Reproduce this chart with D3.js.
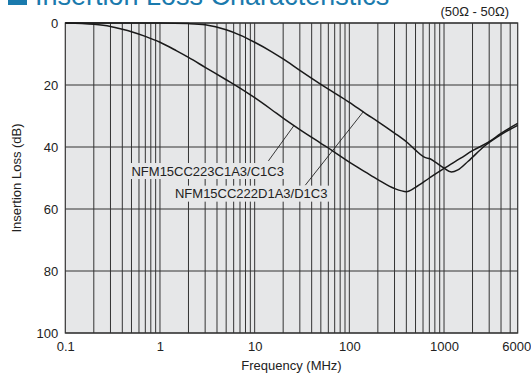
<!DOCTYPE html>
<html><head><meta charset="utf-8">
<script src="https://cdn.jsdelivr.net/npm/d3@7"></script>
<style>
html,body{margin:0;padding:0;background:#fff;}
svg{display:block;font-family:"Liberation Sans",Arial,sans-serif;}
</style></head>
<body>
<svg id="c" width="531" height="373"></svg>
<script>
// ---- data ----
const titleText = "Insertion Loss Characteristics";
const impedanceNote = "(50\u03A9 - 50\u03A9)";
const xTickValues = [0.1, 1, 10, 100, 1000, 6000];
const xTickLabels = ["0.1", "1", "10", "100", "1000", "6000"];
const yTickValues = [0, 20, 40, 60, 80, 100];
const xTitle = "Frequency (MHz)";
const yTitle = "Insertion Loss (dB)";

const seriesNames = ["NFM15CC223C1A3/C1C3", "NFM15CC222D1A3/D1C3"];
const freqA = [0.1, 0.15, 0.2, 0.3, 0.4, 0.5, 0.7, 1, 1.5, 2, 3, 5, 7, 10, 15, 20, 30, 50, 70, 100, 150, 200, 300, 400, 500, 700, 1000, 1500, 2000, 3000, 4000, 6000];
const lossA = [0, 0.15, 0.4, 1.1, 2.0, 2.8, 4.3, 6.2, 9.0, 11.1, 14.3, 18.3, 21.0, 24.1, 27.9, 30.7, 34.4, 38.8, 41.7, 44.9, 48.2, 50.5, 53.4, 54.4, 53.0, 50.0, 46.9, 43.6, 41.2, 38.3, 35.6, 32.4];
const freqB = [0.1, 1, 2, 3, 5, 7, 10, 15, 20, 30, 50, 70, 100, 150, 200, 300, 400, 500, 600, 650, 700, 800, 1000, 1200, 1400, 1800, 2700, 4000, 6000];
const lossB = [0, 0, 0.2, 0.6, 2.2, 3.9, 6.2, 9.2, 11.6, 15.3, 19.8, 22.6, 25.6, 29.3, 31.8, 35.5, 38.3, 41.0, 43.0, 43.5, 43.7, 44.8, 46.8, 48.1, 47.4, 44.6, 39.6, 36.0, 33.0];

// label anchors (freq MHz, dB) and leader lines (start point, target freq on curve)
const labelFreq = [0.5, 1.44];
const labelLoss = [49.2, 56.5];
const leaderStartFreq = [13.95, 34.3];
const leaderStartLoss = [44.5, 52.3];
const leaderEndFreq = [26, 140];

// ---- drawing ----
const svg = d3.select("#c");
const x = d3.scaleLog().domain([0.1, 6000]).range([65.3, 517.7]);
const y = d3.scaleLinear().domain([0, 100]).range([23, 333]);
const plotBg = "#e6e7e8";
const gridCol = "#333";
const teal = "#1a7aad";

// title
svg.append("rect").attr("x", 8).attr("y", -16).attr("width", 19).attr("height", 21).attr("fill", teal);
svg.append("text").attr("x", 35).attr("y", 5).attr("font-size", 27).attr("fill", teal).text(titleText);
svg.append("text").attr("x", 509).attr("y", 16).attr("font-size", 13).attr("text-anchor", "end").attr("fill", "#222").text(impedanceNote);

// plot background
svg.append("rect").attr("x", x(0.1)).attr("y", y(0)).attr("width", x(6000) - x(0.1)).attr("height", y(100) - y(0)).attr("fill", plotBg);

// grid
const g = svg.append("g");
const vLines = [];
for (let d = 0.1; d < 6000; d *= 10) {
  for (let m = 1; m <= 9; m++) {
    const v = +(d * m).toPrecision(3);
    if (v > 0.1 && v < 6000) vLines.push(v);
  }
}
g.selectAll("line.v").data(vLines).join("line").attr("class", "v")
  .attr("x1", d => x(d)).attr("x2", d => x(d)).attr("y1", y(0)).attr("y2", y(100))
  .attr("stroke", gridCol).attr("stroke-width", 1);
g.selectAll("line.h").data(yTickValues).join("line").attr("class", "h")
  .attr("x1", x(0.1)).attr("x2", x(6000)).attr("y1", d => y(d)).attr("y2", d => y(d))
  .attr("stroke", gridCol).attr("stroke-width", 1);
svg.append("rect").attr("x", x(0.1)).attr("y", y(0)).attr("width", x(6000) - x(0.1)).attr("height", y(100) - y(0))
  .attr("fill", "none").attr("stroke", gridCol).attr("stroke-width", 1.2);

// axes
const yAxis = d3.axisLeft(y).tickValues(yTickValues).tickSize(0).tickPadding(7);
const ya = svg.append("g").attr("transform", `translate(${x(0.1)},0)`).call(yAxis);
ya.select(".domain").remove();
ya.selectAll("text").attr("font-size", 13).attr("fill", "#222").attr("font-family", "Liberation Sans, Arial, sans-serif");

const xAxis = d3.axisBottom(x).tickValues(xTickValues).tickSize(0).tickPadding(8.5)
  .tickFormat((d, i) => xTickLabels[i]);
const xa = svg.append("g").attr("transform", `translate(0,${y(100)})`).call(xAxis);
xa.select(".domain").remove();
xa.selectAll("text").attr("font-size", 13).attr("fill", "#222").attr("font-family", "Liberation Sans, Arial, sans-serif")
  .attr("dx", (d, i) => i === xTickValues.length - 1 ? -1.5 : 0);

svg.append("text").attr("x", (x(0.1) + x(6000)) / 2).attr("y", 370).attr("text-anchor", "middle")
  .attr("font-size", 13).attr("fill", "#222").text(xTitle);
svg.append("text").attr("transform", `translate(20.5,${(y(0) + y(100)) / 2}) rotate(-90)`).attr("text-anchor", "middle")
  .attr("font-size", 13).attr("fill", "#222").text(yTitle);

// curves
const series = [
  freqA.map((f, i) => [f, lossA[i]]),
  freqB.map((f, i) => [f, lossB[i]])
];
const line = d3.line().x(d => x(d[0])).y(d => y(d[1])).curve(d3.curveMonotoneX);
const interp = (s, f) => {
  for (let i = 1; i < s.length; i++) {
    if (f <= s[i][0]) {
      const t = (Math.log10(f) - Math.log10(s[i-1][0])) / (Math.log10(s[i][0]) - Math.log10(s[i-1][0]));
      return s[i-1][1] + t * (s[i][1] - s[i-1][1]);
    }
  }
  return s[s.length-1][1];
};

// labels with background boxes
seriesNames.forEach((name, i) => {
  const t = svg.append("text").attr("x", x(labelFreq[i])).attr("y", y(labelLoss[i]))
    .attr("font-size", 13).attr("fill", "#222").text(name);
  const bb = t.node().getBBox();
  svg.insert("rect", () => t.node()).attr("x", bb.x - 3).attr("y", bb.y - 0.5)
    .attr("width", bb.width + 6).attr("height", bb.height + 1).attr("fill", plotBg);
  svg.append("line")
    .attr("x1", x(leaderStartFreq[i])).attr("y1", y(leaderStartLoss[i]))
    .attr("x2", x(leaderEndFreq[i])).attr("y2", y(interp(series[i], leaderEndFreq[i])))
    .attr("stroke", "#222").attr("stroke-width", 0.9);
});

svg.selectAll("path.curve").data(series).join("path").attr("class", "curve")
  .attr("d", line).attr("fill", "none").attr("stroke", "#1a1a1a").attr("stroke-width", 1.5);
</script>
</body></html>
